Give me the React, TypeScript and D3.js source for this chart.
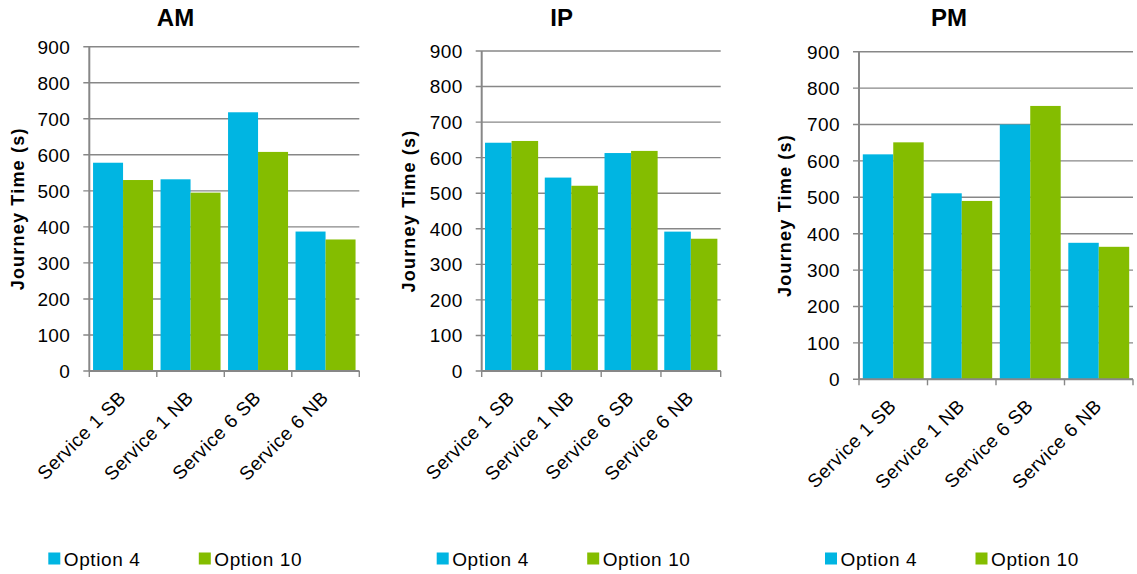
import React from "react";
import * as d3 from "d3";

// Journey times (seconds) per service direction, for each time period
const categories = ["Service 1 SB", "Service 1 NB", "Service 6 SB", "Service 6 NB"];
const seriesNames = ["Option 4", "Option 10"];
const seriesColors = ["#00B5E2", "#84BD00"];

const amOption4 = [578, 532, 718, 387];
const amOption10 = [530, 495, 608, 365];
const ipOption4 = [642, 544, 613, 392];
const ipOption10 = [647, 521, 619, 372];
const pmOption4 = [618, 511, 700, 375];
const pmOption10 = [651, 490, 751, 364];

const yTicks = [0, 100, 200, 300, 400, 500, 600, 700, 800, 900];
const yMax = 900;
const yTitle = "Journey Time (s)";

// Panel frames (plot area edges, title and legend anchors)
const panels = [
  { title: "AM", values: [amOption4, amOption10], left: 89.3, right: 359.3, top: 46.7, bottom: 371, titleX: 175.5, yTitleX: 18, legendX: 48.3 },
  { title: "IP", values: [ipOption4, ipOption10], left: 481.7, right: 720.7, top: 51, bottom: 371, titleX: 561.7, yTitleX: 409, legendX: 436.7 },
  { title: "PM", values: [pmOption4, pmOption10], left: 859, right: 1133, top: 51.7, bottom: 379.3, titleX: 949, yTitleX: 785, legendX: 825 },
];

const FONT = "'Liberation Sans', Arial, Helvetica, sans-serif";
const AXIS = "#878787";

function Panel({ p }: { p: typeof panels[number] }) {
  const x = d3.scaleBand<string>().domain(categories).range([p.left, p.right]).paddingInner(0.25 / 2.25).paddingOuter(0.125 / 2.25);
  const inner = d3.scaleBand<string>().domain(seriesNames).range([0, x.bandwidth()]);
  const y = d3.scaleLinear().domain([0, yMax]).range([p.bottom, p.top]);
  const boundaries = d3.range(categories.length + 1).map((i) => p.left + i * (p.right - p.left) / categories.length);
  const midY = (p.top + p.bottom) / 2;

  return (
    <g>
      <text x={p.titleX} y={26} textAnchor="middle" fontFamily={FONT} fontWeight="bold" fontSize={24} fill="#000">{p.title}</text>

      {yTicks.map((t) => (
        <line key={"g" + t} x1={p.left - 6} x2={p.right} y1={y(t)} y2={y(t)} stroke={AXIS} strokeWidth={1.4} />
      ))}

      {categories.map((c, ci) =>
        seriesNames.map((s, si) => {
          const v = p.values[si][ci];
          return (
            <rect key={c + s} x={(x(c) ?? 0) + (inner(s) ?? 0)} y={y(v)} width={inner.bandwidth()} height={y(0) - y(v)} fill={seriesColors[si]} />
          );
        })
      )}

      <line x1={p.left} x2={p.left} y1={p.top} y2={p.bottom} stroke={AXIS} strokeWidth={2} />
      <line x1={p.left} x2={p.right} y1={p.bottom} y2={p.bottom} stroke={AXIS} strokeWidth={2} />
      {boundaries.map((bx, i) => (
        <line key={"t" + i} x1={bx} x2={bx} y1={p.bottom} y2={p.bottom + 6} stroke={AXIS} strokeWidth={1.4} />
      ))}

      {yTicks.map((t) => (
        <text key={"l" + t} x={p.left - 19} y={y(t)} dy="0.36em" textAnchor="end" fontFamily={FONT} fontSize={19} letterSpacing={0.4} fill="#000">{t}</text>
      ))}

      <text transform={`translate(${p.yTitleX},${midY}) rotate(-90)`} dy="0.36em" textAnchor="middle" fontFamily={FONT} fontWeight="bold" fontSize={18} letterSpacing={1.2} fill="#000">{yTitle}</text>

      {categories.map((c) => {
        const cx = (x(c) ?? 0) + x.bandwidth() / 2 + 4;
        const cy = p.bottom + 28;
        return (
          <text key={"c" + c} transform={`translate(${cx},${cy}) rotate(-45)`} textAnchor="end" fontFamily={FONT} fontSize={19} letterSpacing={0.5} fill="#000">{c}</text>
        );
      })}

      {seriesNames.map((s, si) => {
        const lx = p.legendX + si * 150.5;
        return (
          <g key={"lg" + s}>
            <rect x={lx} y={552.5} width={12} height={12} fill={seriesColors[si]} />
            <text x={lx + 15.5} y={565.5} fontFamily={FONT} fontSize={19} letterSpacing={0.6} fill="#000">{s}</text>
          </g>
        );
      })}
    </g>
  );
}

export default function App() {
  return (
    <svg width={1137} height={574} style={{ position: "absolute", left: 0, top: 0, background: "#fff" }}>
      <rect width={1137} height={574} fill="#fff" />
      {panels.map((p) => (
        <Panel key={p.title} p={p} />
      ))}
    </svg>
  );
}
